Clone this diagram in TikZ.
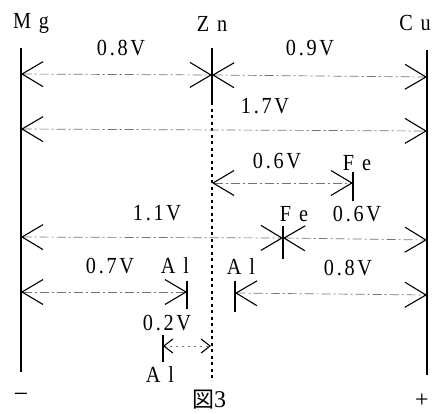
\documentclass[tikz,border=0pt]{standalone}
\usepackage{fontspec}
\setmainfont{Liberation Serif}
\newfontfamily\lab[LetterSpace=12,FakeStretch=0.88]{Liberation Serif}
\newfontfamily\cjkjp{Noto Sans CJK JP}
\usetikzlibrary{arrows.meta}
\tikzset{
  bigbarb/.tip={Straight Barb[length=21pt,width=25pt,line width=1.1pt,color=black]},
  smallbarb/.tip={Straight Barb[length=9pt,width=14pt,line width=1.1pt,color=black]},
  dd/.style={draw=black!55,line width=0.7pt,dash pattern=on 9pt off 3pt on 2pt off 3pt,{bigbarb}-{bigbarb}},
  ddsmall/.style={draw=black!55,line width=0.7pt,dash pattern=on 2pt off 4pt,{smallbarb}-{smallbarb}},
  metal/.style={draw=black,line width=1.4pt},
  tick/.style={draw=black,line width=1.2pt},
  lbl/.style={inner sep=0pt,anchor=base,font=\fontsize{23}{23}\lab},
}
\begin{document}
\begin{tikzpicture}[x=1pt,y=-1pt]
\useasboundingbox (0,0) rectangle (433,413);
% metal lines
\coordinate (mgT) at (21,48);  \coordinate (mgB) at (21,372);
\coordinate (znT) at (212,48); \coordinate (znM) at (212,102); \coordinate (znB) at (212,378);
\coordinate (cuT) at (427,50); \coordinate (cuB) at (427,375);
\draw[metal] (mgT) -- (mgB);
\draw[metal] (cuT) -- (cuB);
\draw[metal] (znT) -- (znM);
\draw[draw=black,line width=2pt,dash pattern=on 3pt off 3.5pt] (znM) -- (znB);
% row 1
\coordinate (mg1) at (21,74); \coordinate (zn1) at (212,75); \coordinate (cu1) at (427,77);
\draw[dd] (mg1) -- (zn1);
\draw[dd] (zn1) -- (cu1);
% row 2
\coordinate (mg2) at (21,129); \coordinate (cu2) at (427,131);
\draw[dd] (mg2) -- (cu2);
% row 3
\coordinate (zn3) at (212,183); \coordinate (fe3) at (353,183);
\coordinate (fe3t) at (353,172); \coordinate (fe3b) at (353,201);
\draw[dd] (zn3) -- (fe3);
\draw[tick] (fe3t) -- (fe3b);
% row 4
\coordinate (mg4) at (21,237); \coordinate (fe4) at (283,238); \coordinate (cu4) at (427,240);
\coordinate (fe4t) at (283,226); \coordinate (fe4b) at (283,259);
\draw[dd] (mg4) -- (fe4);
\draw[dd] (fe4) -- (cu4);
\draw[tick] (fe4t) -- (fe4b);
% row 5
\coordinate (mg5) at (21,292); \coordinate (al5a) at (187,292);
\coordinate (al5b) at (235,293); \coordinate (cu5) at (427,295);
\coordinate (al5at) at (187,281); \coordinate (al5ab) at (187,309);
\coordinate (al5bt) at (235,281); \coordinate (al5bb) at (235,312);
\draw[dd] (mg5) -- (al5a);
\draw[dd] (al5b) -- (cu5);
\draw[tick] (al5at) -- (al5ab);
\draw[tick] (al5bt) -- (al5bb);
% row 6
\coordinate (al6) at (163,346); \coordinate (zn6) at (211,346);
\coordinate (al6t) at (163,335); \coordinate (al6b) at (163,362);
\draw[ddsmall] (al6) -- (zn6);
\draw[tick] (al6t) -- (al6b);
% labels
\node[lbl] (lMg) at (31,28) {M g};
\node[lbl] (lZn) at (212,31) {Z n};
\node[lbl] (lCu) at (415,30) {C u};
\node[lbl] (v08) at (121,55) {0.8V};
\node[lbl] (v09) at (310,55) {0.9V};
\node[lbl] (v17) at (265,113) {1.7V};
\node[lbl] (v06a) at (277,168) {0.6V};
\node[lbl] (lFe3) at (357,170) {F e};
\node[lbl] (v11) at (157,220) {1.1V};
\node[lbl] (lFe4) at (294,221) {F e};
\node[lbl] (v06b) at (357,221) {0.6V};
\node[lbl] (v07) at (110,273) {0.7V};
\node[lbl] (lAl1) at (175,273) {A l};
\node[lbl] (lAl2) at (241,274) {A l};
\node[lbl] (v08b) at (348,275) {0.8V};
\node[lbl] (v02) at (167,330) {0.2V};
\node[lbl] (lAl3) at (160,382) {A l};
\node[inner sep=0pt,font=\fontsize{26}{26}\selectfont] (minus) at (21,398) {−};
\node[inner sep=0pt,anchor=base] (fig) at (209,407) {{\fontsize{22}{22}\cjkjp 図}{\fontsize{24}{24}\selectfont 3}};
\node[inner sep=0pt,font=\fontsize{24}{24}\selectfont] (plus) at (422,401) {+};
\end{tikzpicture}
\end{document}
